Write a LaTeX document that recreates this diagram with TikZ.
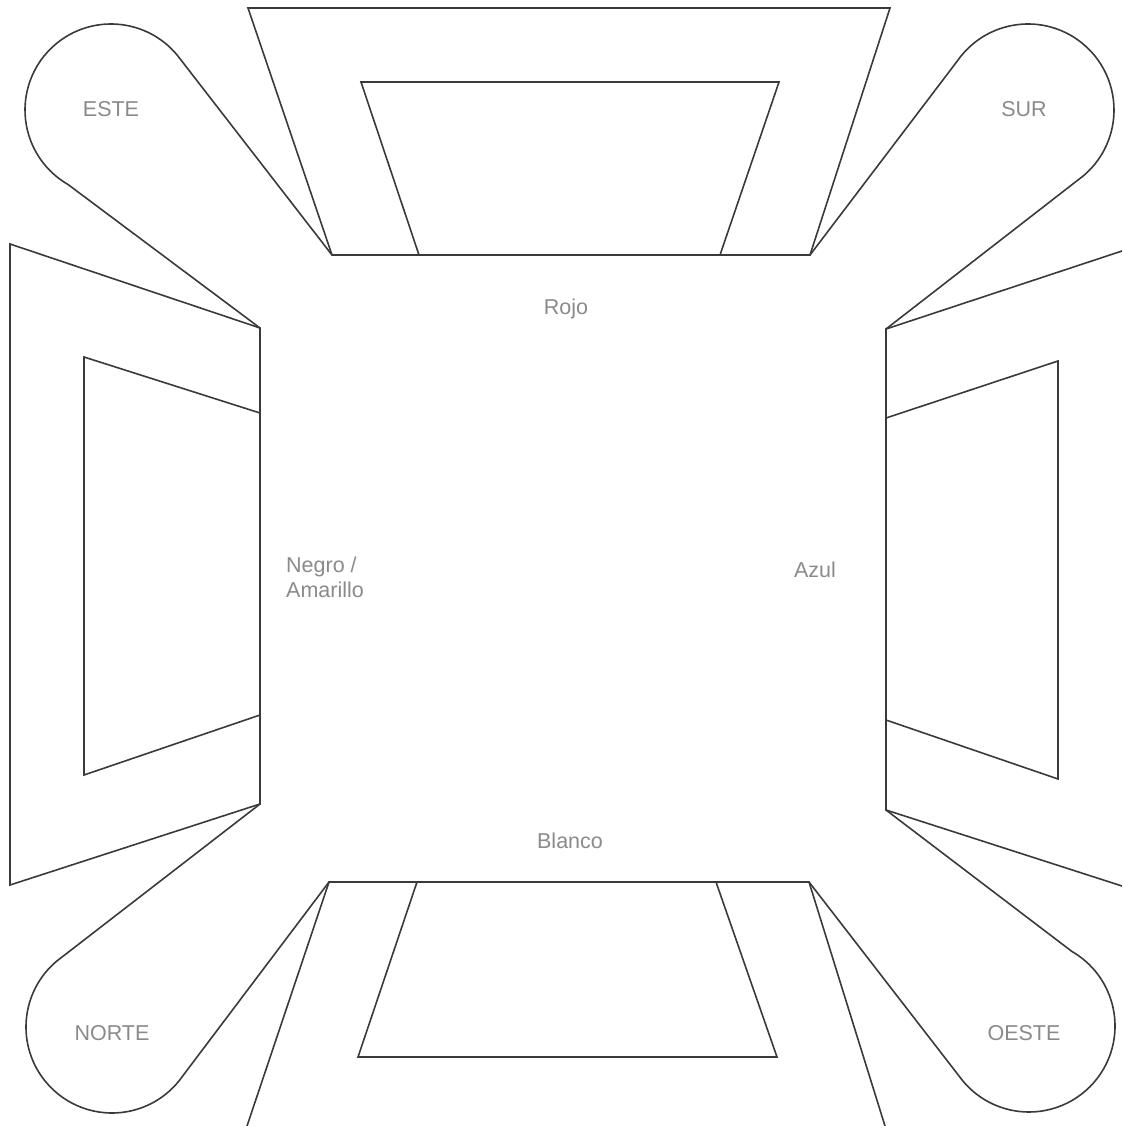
\documentclass[tikz,border=0pt]{standalone}
\usepackage{fontspec}
\setmainfont{Liberation Sans}
\usetikzlibrary{calc}
\definecolor{linec}{HTML}{3A3A3A}
\definecolor{textc}{HTML}{8A8A8A}
\begin{document}
\begin{tikzpicture}[x=1pt,y=-1pt,
  shape line/.style={draw=linec,line width=1.6pt,line join=miter},
  lbl/.style={text=textc,font=\fontsize{21.5}{25}\selectfont,inner sep=0pt},
  lbll/.style={lbl,align=left,anchor=north west}]
\useasboundingbox (0,0) rectangle (1122,1126);
\begin{scope}
\clip (0,0) rectangle (1122,1126);
% corner coordinates
\coordinate (TL) at (332,255);
\coordinate (TR) at (810,255);
\coordinate (LT) at (260,328);
\coordinate (LB) at (260,804);
\coordinate (RT) at (886,329);
\coordinate (RB) at (886,810);
\coordinate (BL) at (329,882);
\coordinate (BR) at (809,882);
% arc start points
\coordinate (e1) at ($(111,110)+(-40:86)$);
\coordinate (s1) at ($(1028,110)+(-145:86)$);
\coordinate (n1) at ($(112,1027)+(-130:86)$);
\coordinate (o1) at ($(1029,1026)+(-60:86)$);
% top trapezoid
\draw[shape line] (TL) -- (248,8) -- (890,8) -- (TR) -- cycle;
\draw[shape line] (419,255) -- (361,82) -- (779,82) -- (720,255);
% left trapezoid
\draw[shape line] (LT) -- (10,244) -- (10,885) -- (LB) -- cycle;
\draw[shape line] (260,413) -- (84,357) -- (84,775) -- (260,715);
% right trapezoid
\draw[shape line] (1122,251) -- (RT) -- (RB) -- (1122,886);
\draw[shape line] (886,418) -- (1058,361) -- (1058,779) -- (886,720);
% bottom trapezoid
\draw[shape line] (247,1126) -- (BL) -- (BR) -- (885,1126);
\draw[shape line] (417,882) -- (358,1057) -- (777,1057) -- (716,882);
% teardrops
\draw[shape line] (TL) -- (e1) arc[start angle=-40,end angle=-240,radius=86] -- (LT);
\draw[shape line] (TR) -- (s1) arc[start angle=-145,end angle=50,radius=86] -- (RT);
\draw[shape line] (LB) -- (n1) arc[start angle=-130,end angle=-325,radius=86] -- (BL);
\draw[shape line] (RB) -- (o1) arc[start angle=-60,end angle=140,radius=86] -- (BR);
\end{scope}
% labels
\node[lbl] (este) at (111,109) {ESTE};
\node[lbl] (sur) at (1024,109) {SUR};
\node[lbl] (norte) at (112,1033) {NORTE};
\node[lbl] (oeste) at (1024,1033) {OESTE};
\node[lbl] (rojo) at (566,309) {Rojo};
\node[lbl] (azul) at (815,570) {Azul};
\node[lbl] (blanco) at (570,841) {Blanco};
\node[lbll] (negro) at (286,557) {Negro /\\Amarillo};
\end{tikzpicture}
\end{document}
